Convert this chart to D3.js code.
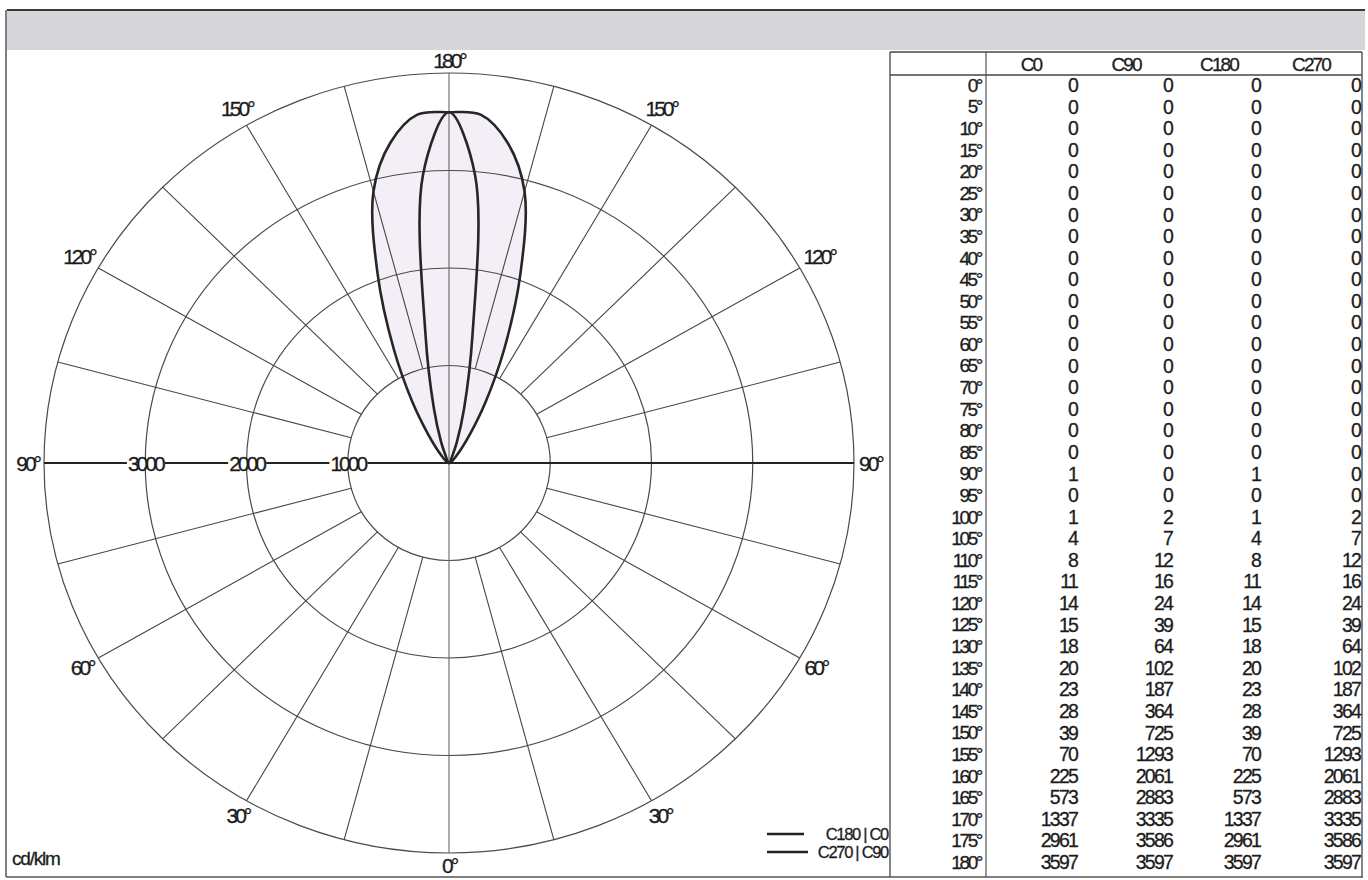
<!DOCTYPE html>
<html>
<head>
<meta charset="utf-8">
<script src="https://cdn.jsdelivr.net/npm/d3@7"></script>
<style>
  html, body { margin: 0; padding: 0; background: #fff; }
  svg { display: block; }
  text { font-family: "Liberation Sans", Arial, sans-serif; fill: #1c1c1c; stroke: #1c1c1c; stroke-width: 0.3px; }
</style>
</head>
<body>
<svg id="chart" width="1368" height="880"></svg>
<script>
// Luminous intensity distribution (cd/klm) per gamma angle and C-plane
const angles = [0, 5, 10, 15, 20, 25, 30, 35, 40, 45, 50, 55, 60, 65, 70, 75, 80, 85, 90,
                95, 100, 105, 110, 115, 120, 125, 130, 135, 140, 145, 150, 155, 160, 165, 170, 175, 180];
const c0   = [0, 0, 0, 0, 0, 0, 0, 0, 0, 0, 0, 0, 0, 0, 0, 0, 0, 0, 1,
              0, 1, 4, 8, 11, 14, 15, 18, 20, 23, 28, 39, 70, 225, 573, 1337, 2961, 3597];
const c90  = [0, 0, 0, 0, 0, 0, 0, 0, 0, 0, 0, 0, 0, 0, 0, 0, 0, 0, 0,
              0, 2, 7, 12, 16, 24, 39, 64, 102, 187, 364, 725, 1293, 2061, 2883, 3335, 3586, 3597];
const c180 = [0, 0, 0, 0, 0, 0, 0, 0, 0, 0, 0, 0, 0, 0, 0, 0, 0, 0, 1,
              0, 1, 4, 8, 11, 14, 15, 18, 20, 23, 28, 39, 70, 225, 573, 1337, 2961, 3597];
const c270 = [0, 0, 0, 0, 0, 0, 0, 0, 0, 0, 0, 0, 0, 0, 0, 0, 0, 0, 0,
              0, 2, 7, 12, 16, 24, 39, 64, 102, 187, 364, 725, 1293, 2061, 2883, 3335, 3586, 3597];

const planeNames   = ["C0", "C90", "C180", "C270"];
const ringValues   = [1000, 2000, 3000, 4000];
const ringLabels   = [1000, 2000, 3000];
const spokeAngles  = [0, 15, 30, 45, 60, 75, 90, 105, 120, 135, 150, 165, 180];
const angleLabels  = [0, 30, 60, 90, 120, 150, 180];
const legendLabels = ["C180 | C0", "C270 | C90"];
const unitLabel    = "cd/klm";

const svg = d3.select("#chart");

// ---------- frame ----------
svg.append("rect").attr("x", 7).attr("y", 10).attr("width", 1358).attr("height", 40)
  .attr("fill", "#d6d5da");
svg.append("line").attr("x1", 7).attr("x2", 1365).attr("y1", 10).attr("y2", 10)
  .attr("stroke", "#3a3a3a").attr("stroke-width", 2);
svg.append("line").attr("x1", 6).attr("x2", 6).attr("y1", 10).attr("y2", 877)
  .attr("stroke", "#555").attr("stroke-width", 1.5);
svg.append("line").attr("x1", 6).attr("x2", 1363).attr("y1", 877).attr("y2", 877)
  .attr("stroke", "#555").attr("stroke-width", 1.5);

// ---------- polar diagram ----------
const cx = 449, cy = 463;
const rX = d3.scaleLinear().domain([0, 4000]).range([0, 405]);
const rY = d3.scaleLinear().domain([0, 4000]).range([0, 390]);
const rad = d => d * Math.PI / 180;
// gamma 0 points down, 180 up; side +1 is right half, -1 left half
const pt = (v, g, side) => [cx + side * rX(v) * Math.sin(rad(g)), cy + rY(v) * Math.cos(rad(g))];

const plot = svg.append("g");

// curve shapes: right half from one plane, left half from the opposite plane
const curveLine = d3.line().x(d => d[0]).y(d => d[1]).curve(d3.curveCatmullRomClosed.alpha(0.5));
function shape(right, left) {
  const pts = [];
  const add = p => {
    const last = pts[pts.length - 1];
    if (!last || Math.hypot(last[0] - p[0], last[1] - p[1]) > 0.01) pts.push(p);
  };
  angles.forEach((g, i) => add(pt(right[i], g, 1)));
  for (let i = angles.length - 1; i >= 0; i--) add(pt(left[i], angles[i], -1));
  const first = pts[0], last = pts[pts.length - 1];
  if (Math.hypot(last[0] - first[0], last[1] - first[1]) <= 0.01) pts.pop();
  return pts;
}
const shapes = [shape(c90, c270), shape(c0, c180)];

plot.selectAll("path.fill").data(shapes).join("path")
  .attr("class", "fill")
  .attr("d", curveLine)
  .attr("fill", "#f4eef6")
  .attr("stroke", "none");

// rings
plot.selectAll("ellipse.ring").data(ringValues).join("ellipse")
  .attr("class", "ring")
  .attr("cx", cx).attr("cy", cy)
  .attr("rx", d => rX(d)).attr("ry", d => rY(d))
  .attr("fill", "none").attr("stroke", "#4a4a4a").attr("stroke-width", 1.2);

// spokes (outside the first ring, except the main axes)
const spokes = [];
spokeAngles.forEach(g => {
  [1, -1].forEach(side => {
    if ((g === 0 || g === 180) && side === -1) return;
    const full = g === 0 || g === 90 || g === 180;
    spokes.push({ g, side, from: full ? 0 : ringValues[0], to: ringValues[ringValues.length - 1] });
  });
});
plot.selectAll("line.spoke").data(spokes).join("line")
  .attr("class", "spoke")
  .attr("x1", d => pt(d.from, d.g, d.side)[0]).attr("y1", d => pt(d.from, d.g, d.side)[1])
  .attr("x2", d => pt(d.to, d.g, d.side)[0]).attr("y2", d => pt(d.to, d.g, d.side)[1])
  .attr("stroke", d => d.g === 90 ? "#222" : (d.g === 0 || d.g === 180 ? "#666" : "#444"))
  .attr("stroke-width", d => d.g === 90 ? 1.8 : 1.1);

// ring value labels on the left horizontal axis
const ringG = plot.selectAll("g.rlab").data(ringLabels).join("g").attr("class", "rlab");
ringG.append("text")
  .attr("x", d => pt(d, 90, -1)[0]).attr("y", cy).attr("dy", "0.36em")
  .attr("text-anchor", "middle")
  .style("font-size", "21px").style("letter-spacing", "-3px")
  .text(d => d);
ringG.each(function () {
  const t = d3.select(this).select("text");
  const b = t.node().getBBox();
  d3.select(this).insert("rect", "text")
    .attr("x", b.x - 1).attr("y", cy - 4).attr("width", b.width + 1).attr("height", 8)
    .attr("fill", "#fff");
});

// gamma angle labels around the diagram
const angLab = [];
angleLabels.forEach(g => {
  [1, -1].forEach(side => {
    if ((g === 0 || g === 180) && side === -1) return;
    angLab.push({ g, side });
  });
});
plot.selectAll("text.alab").data(angLab).join("text")
  .attr("class", "alab")
  .attr("text-anchor", "middle").attr("dy", "0.36em")
  .style("font-size", "21px").style("letter-spacing", "-3px")
  .text(d => d.g + "°")
  .each(function (d) {
    const w = this.getComputedTextLength();
    const dx = d.side * Math.sin(rad(d.g)), dy = Math.cos(rad(d.g));
    const off = 5 + Math.abs(dx) * w / 2 + Math.abs(dy) * 7.5;
    const e = pt(4000, d.g, d.side);
    d3.select(this).attr("x", e[0] + dx * off).attr("y", e[1] + dy * off);
  });

// intensity curves
plot.selectAll("path.curve").data(shapes).join("path")
  .attr("class", "curve")
  .attr("d", curveLine)
  .attr("fill", "none")
  .attr("stroke", "#262626").attr("stroke-width", 2.6)
  .attr("stroke-linejoin", "round");

// unit label
svg.append("text").attr("x", 12).attr("y", 865)
  .style("font-size", "19px").style("letter-spacing", "-1.2px")
  .text(unitLabel);

// legend
const legY = [834, 852];
const leg = svg.selectAll("g.leg").data(legendLabels).join("g").attr("class", "leg");
leg.append("line")
  .attr("x1", 767).attr("x2", (d, i) => i === 0 ? 804 : 808)
  .attr("y1", (d, i) => legY[i]).attr("y2", (d, i) => legY[i])
  .attr("stroke", "#222").attr("stroke-width", 2.4);
leg.append("text")
  .attr("x", 888).attr("y", (d, i) => legY[i]).attr("dy", "0.36em")
  .attr("text-anchor", "end")
  .style("font-size", "16.5px").style("letter-spacing", "-1.3px")
  .text(d => d);

// ---------- value table ----------
const tL = 890, tR = 1362, tT = 52, tB = 877, sepX = 986, headY = 75;
const tbl = svg.append("g");
tbl.append("line").attr("x1", tL).attr("x2", tR).attr("y1", tT).attr("y2", tT).attr("stroke", "#444").attr("stroke-width", 1.3);
tbl.append("line").attr("x1", tL).attr("x2", tR).attr("y1", headY).attr("y2", headY).attr("stroke", "#444").attr("stroke-width", 1.3);
tbl.append("line").attr("x1", tL).attr("x2", tL).attr("y1", tT).attr("y2", tB).attr("stroke", "#444").attr("stroke-width", 1.3);
tbl.append("line").attr("x1", sepX).attr("x2", sepX).attr("y1", tT).attr("y2", tB).attr("stroke", "#555").attr("stroke-width", 1.2);
tbl.append("line").attr("x1", tR).attr("x2", tR).attr("y1", tT).attr("y2", tB).attr("stroke", "#444").attr("stroke-width", 1.3);

const rowY = d3.scalePoint().domain(angles).range([85, 862]);
const colRight = [1077, 1172, 1260, 1360];
const colHead  = [1031, 1126, 1219, 1311];
const series   = [c0, c90, c180, c270];

tbl.selectAll("text.head").data(planeNames).join("text")
  .attr("class", "head")
  .attr("x", (d, i) => colHead[i]).attr("y", 64).attr("dy", "0.36em")
  .attr("text-anchor", "middle")
  .style("font-size", "19px").style("letter-spacing", "-1.9px")
  .text(d => d);

tbl.selectAll("text.ang").data(angles).join("text")
  .attr("class", "ang")
  .attr("x", 981).attr("y", d => rowY(d)).attr("dy", "0.36em")
  .attr("text-anchor", "end")
  .style("font-size", "19px").style("letter-spacing", "-2.4px")
  .text(d => d + "°");

series.forEach((vals, ci) => {
  tbl.selectAll("text.v" + ci).data(vals).join("text")
    .attr("class", "v" + ci)
    .attr("x", colRight[ci]).attr("y", (d, i) => rowY(angles[i])).attr("dy", "0.36em")
    .attr("text-anchor", "end")
    .style("font-size", "19.5px").style("letter-spacing", "-1.8px")
    .text(d => d);
});
</script>
</body>
</html>
